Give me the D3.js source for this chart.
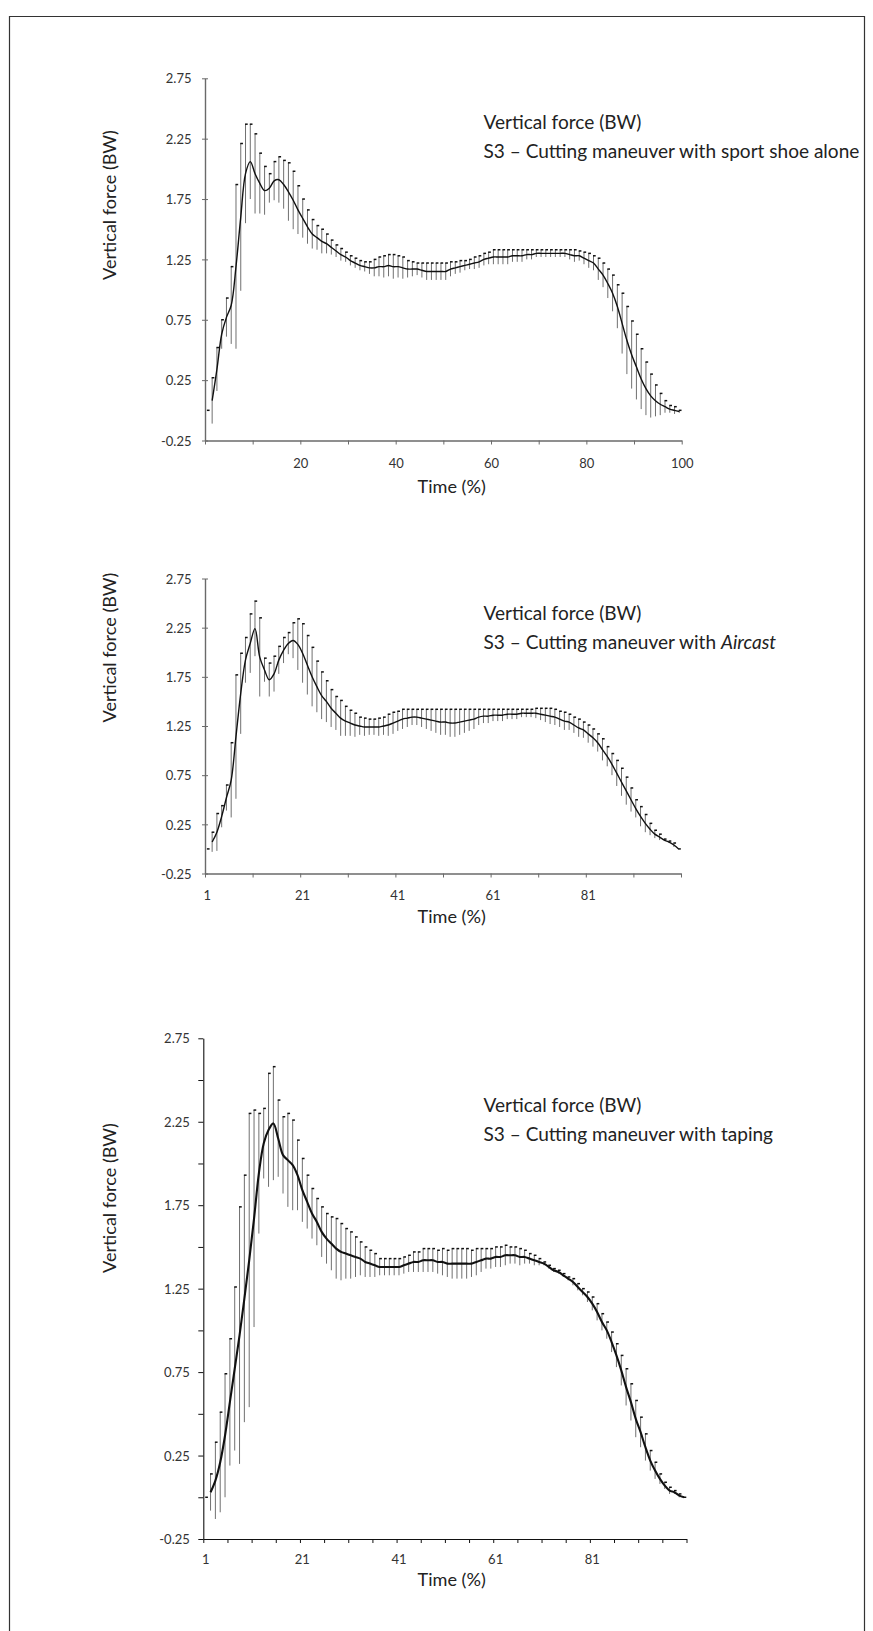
<!DOCTYPE html>
<html><head><meta charset="utf-8">
<script src="https://cdn.jsdelivr.net/npm/d3@7"></script>
<style>
html,body{margin:0;padding:0;background:#fff;}
svg{display:block;}
</style></head>
<body><svg id="c" width="873" height="1631"></svg>
<script>
// ---------------- data ----------------
const categories = d3.range(1, 101); // Time (%) 1..100

const mean1 = [0.00,0.08,0.34,0.63,0.77,0.87,1.19,1.60,1.96,2.06,
 1.96,1.88,1.82,1.84,1.90,1.91,1.87,1.81,1.74,1.66,
 1.59,1.52,1.46,1.43,1.40,1.38,1.35,1.32,1.29,1.27,
 1.24,1.22,1.20,1.19,1.18,1.18,1.19,1.19,1.20,1.19,
 1.19,1.18,1.17,1.17,1.17,1.16,1.15,1.15,1.15,1.15,
 1.15,1.17,1.18,1.19,1.20,1.21,1.22,1.23,1.25,1.26,
 1.27,1.27,1.27,1.27,1.28,1.28,1.28,1.29,1.29,1.30,
 1.30,1.30,1.30,1.30,1.30,1.30,1.29,1.28,1.28,1.26,
 1.24,1.22,1.17,1.12,1.05,0.97,0.86,0.72,0.58,0.46,
 0.36,0.26,0.18,0.12,0.08,0.05,0.03,0.01,0.00,-0.01];
const sd1 = [0.00,0.19,0.18,0.12,0.16,0.32,0.68,0.61,0.41,0.31,
 0.33,0.25,0.20,0.12,0.16,0.19,0.20,0.24,0.24,0.20,
 0.16,0.14,0.12,0.10,0.10,0.08,0.06,0.05,0.05,0.04,
 0.04,0.04,0.04,0.04,0.05,0.07,0.08,0.09,0.09,0.10,
 0.09,0.09,0.07,0.06,0.05,0.06,0.07,0.07,0.07,0.07,
 0.07,0.06,0.05,0.05,0.04,0.04,0.05,0.05,0.05,0.05,
 0.06,0.06,0.06,0.06,0.05,0.05,0.05,0.04,0.04,0.03,
 0.03,0.03,0.03,0.03,0.03,0.03,0.04,0.05,0.04,0.05,
 0.06,0.06,0.09,0.10,0.12,0.15,0.18,0.25,0.28,0.28,
 0.27,0.25,0.22,0.18,0.13,0.09,0.05,0.03,0.03,0.01];

const mean2 = [0.00,0.07,0.17,0.33,0.52,0.70,1.14,1.58,1.92,2.09,
 2.24,1.95,1.82,1.72,1.78,1.92,2.02,2.09,2.12,2.08,
 1.99,1.87,1.75,1.65,1.56,1.50,1.43,1.38,1.33,1.30,
 1.28,1.26,1.25,1.24,1.24,1.24,1.24,1.25,1.26,1.28,
 1.30,1.32,1.33,1.34,1.34,1.33,1.32,1.31,1.30,1.29,
 1.29,1.28,1.28,1.29,1.30,1.31,1.32,1.34,1.35,1.35,
 1.36,1.36,1.36,1.37,1.37,1.37,1.38,1.38,1.38,1.38,
 1.37,1.36,1.35,1.34,1.32,1.30,1.29,1.26,1.23,1.21,
 1.17,1.13,1.08,1.01,0.94,0.86,0.77,0.68,0.59,0.50,
 0.41,0.33,0.26,0.20,0.15,0.12,0.09,0.07,0.04,0.00];
const sd2 = [0.00,0.10,0.19,0.11,0.13,0.38,0.63,0.41,0.23,0.30,
 0.28,0.40,0.12,0.17,0.18,0.14,0.13,0.11,0.18,0.26,
 0.30,0.30,0.30,0.26,0.24,0.21,0.19,0.17,0.18,0.15,
 0.13,0.12,0.09,0.09,0.08,0.08,0.09,0.09,0.11,0.11,
 0.10,0.10,0.09,0.08,0.08,0.09,0.10,0.11,0.12,0.13,
 0.13,0.14,0.14,0.13,0.12,0.11,0.10,0.08,0.07,0.07,
 0.06,0.06,0.06,0.05,0.05,0.05,0.04,0.04,0.04,0.05,
 0.06,0.07,0.08,0.08,0.08,0.09,0.08,0.08,0.09,0.08,
 0.09,0.09,0.09,0.11,0.10,0.11,0.13,0.14,0.14,0.12,
 0.09,0.10,0.09,0.06,0.04,0.03,0.01,0.01,0.02,0.00];

const mean3 = [0.00,0.03,0.10,0.21,0.37,0.57,0.77,0.97,1.19,1.42,
 1.67,1.94,2.12,2.20,2.24,2.15,2.05,2.02,1.99,1.93,
 1.84,1.77,1.70,1.65,1.59,1.55,1.52,1.49,1.47,1.46,
 1.45,1.44,1.43,1.41,1.40,1.39,1.38,1.38,1.38,1.38,
 1.38,1.39,1.40,1.41,1.41,1.42,1.42,1.42,1.41,1.41,
 1.40,1.40,1.40,1.40,1.40,1.40,1.41,1.42,1.43,1.43,
 1.44,1.44,1.45,1.45,1.45,1.44,1.44,1.43,1.42,1.41,
 1.40,1.38,1.36,1.35,1.33,1.31,1.29,1.26,1.23,1.20,
 1.16,1.11,1.05,1.00,0.93,0.85,0.76,0.66,0.57,0.47,
 0.39,0.30,0.22,0.16,0.11,0.07,0.04,0.03,0.01,0.00];
const sd3 = [0.00,0.11,0.23,0.30,0.37,0.38,0.49,0.77,0.74,0.88,
 0.65,0.36,0.21,0.34,0.34,0.23,0.23,0.28,0.27,0.21,
 0.19,0.16,0.15,0.14,0.15,0.15,0.16,0.18,0.17,0.15,
 0.14,0.12,0.10,0.09,0.08,0.07,0.05,0.05,0.05,0.05,
 0.05,0.05,0.05,0.06,0.06,0.07,0.07,0.07,0.07,0.08,
 0.08,0.09,0.09,0.09,0.09,0.08,0.08,0.07,0.06,0.06,
 0.06,0.06,0.06,0.05,0.05,0.05,0.04,0.03,0.03,0.02,
 0.01,0.01,0.01,0.01,0.01,0.01,0.02,0.02,0.02,0.03,
 0.04,0.05,0.05,0.05,0.06,0.07,0.09,0.11,0.11,0.11,
 0.09,0.08,0.06,0.05,0.03,0.02,0.02,0.01,0.01,0.00];

const yTickLabels = [-0.25, 0.25, 0.75, 1.25, 1.75, 2.25, 2.75];
const yTicksFine = [-0.25, 0, 0.25, 0.5, 0.75, 1, 1.25, 1.5, 1.75, 2, 2.25, 2.5, 2.75];
const xTickLabels1 = [20, 40, 60, 80, 100];
const xCatLabels = [1, 21, 41, 61, 81];
const yTitle = "Vertical force (BW)";
const xTitle = "Time (%)";
const noteTitle = "Vertical force (BW)";
const notes = [
  [{t:"S3 – Cutting maneuver with sport shoe alone"}],
  [{t:"S3 – Cutting maneuver with "}, {t:"Aircast", it:true}],
  [{t:"S3 – Cutting maneuver with taping"}]
];

// ---------------- layout ----------------
const panels = [
  {mean: mean1, sd: sd1, note: notes[0], kind: "value", x0: 205, x1: 681.7, yT: 78.3, yB: 440.5,
   axisColor: "#6a6a6a", axisW: 1.4, lineW: 1.4, fineY: false, xStep: 10,
   noteY: 129, yTitleY: 205, xLabY: 463, xTitleY: 487},
  {mean: mean2, sd: sd2, note: notes[1], kind: "cat", x0: 205, x1: 681, yT: 578.5, yB: 873.5,
   axisColor: "#6a6a6a", axisW: 1.4, lineW: 1.4, fineY: false, xStep: 10,
   noteY: 620, yTitleY: 647.5, xLabY: 895, xTitleY: 917},
  {mean: mean3, sd: sd3, note: notes[2], kind: "cat", x0: 203.3, x1: 686.5, yT: 1038.3, yB: 1539,
   axisColor: "#111", axisW: 1.1, lineW: 2.1, fineY: true, xStep: 5,
   noteY: 1112, yTitleY: 1198, xLabY: 1559.5, xTitleY: 1579.5}
];

const FONT = "Lato, 'Open Sans', sans-serif";
const svg = d3.select("#c");

// frame
svg.append("path")
  .attr("d", "M9.5,1631 L9.5,16.5 L864.5,16.5 L864.5,1631")
  .attr("fill", "none").attr("stroke", "#333").attr("stroke-width", 1.2);

// font sizes fitted to the reference text widths
function fitSize(str, target) {
  const probe = svg.append("text").attr("font-family", FONT).attr("font-size", 100).text(str);
  const s = 100 * target / probe.node().getComputedTextLength();
  probe.remove();
  return s;
}
const noteSize = fitSize(notes[0][0].t, 376);
const yTitleSize = fitSize(yTitle, 150);

panels.forEach(p => {
  const g = svg.append("g");
  const band = d3.scaleBand().domain(categories).range([p.x0, p.x1]);
  const cx = d => band(d) + band.bandwidth() / 2;
  const y = d3.scaleLinear().domain([-0.25, 2.75]).range([p.yB, p.yT]);
  const xl = d3.scaleLinear().domain([0, 100]).range([p.x0, p.x1]);

  // ---- y axis
  const yAxis = d3.axisLeft(y)
    .tickValues(p.fineY ? yTicksFine : yTickLabels)
    .tickSize(p.fineY ? 5 : 3).tickSizeOuter(0)
    .tickPadding(p.fineY ? 8.5 : 10.5)
    .tickFormat(d => yTickLabels.some(v => Math.abs(v - d) < 1e-9) ? d.toFixed(2) : "");
  const ya = g.append("g").attr("transform", `translate(${p.x0},0)`).call(yAxis);
  ya.select(".domain").attr("stroke", p.axisColor).attr("stroke-width", p.axisW);
  ya.selectAll(".tick line").attr("stroke", p.axisColor).attr("stroke-width", 1);
  if (!p.fineY) ya.selectAll(".tick line").attr("x1", 3);
  ya.selectAll(".tick text").attr("font-family", FONT).attr("font-size", 13)
    .attr("fill", "#333").attr("dy", "0.36em");

  // ---- x axis ticks
  const xTickAxis = d3.axisBottom(xl)
    .tickValues(d3.range(0, 101, p.xStep))
    .tickSize(4).tickSizeOuter(0)
    .tickFormat(d => (p.kind === "value" && xTickLabels1.includes(d)) ? d : "");
  const xa = g.append("g").attr("transform", `translate(0,${p.yB})`).call(xTickAxis);
  xa.select(".domain").attr("stroke", p.axisColor).attr("stroke-width", p.axisW);
  xa.selectAll(".tick line").attr("stroke", p.axisColor).attr("stroke-width", 1);
  xa.selectAll(".tick text").attr("font-family", FONT).attr("font-size", 13)
    .attr("fill", "#333").attr("y", p.xLabY - p.yB).attr("dy", "0.36em");
  if (p.kind === "cat") {
    const xCat = d3.axisBottom(band).tickValues(xCatLabels).tickSize(0);
    const xc = g.append("g").attr("transform", `translate(0,${p.yB})`).call(xCat);
    xc.select(".domain").remove();
    xc.selectAll(".tick text").attr("font-family", FONT).attr("font-size", 13)
      .attr("fill", "#333").attr("y", p.xLabY - p.yB).attr("dy", "0.36em");
  }

  // ---- error bars
  const pts = categories.map((c, i) => ({c, m: p.mean[i], s: p.sd[i], i}));
  g.append("g").selectAll("line").data(pts).join("line")
    .attr("x1", d => cx(d.c)).attr("x2", d => cx(d.c))
    .attr("y1", d => y(d.m + d.s)).attr("y2", d => y(d.m - d.s))
    .attr("stroke", "#707070").attr("stroke-width", 1);
  g.append("g").selectAll("line").data(pts).join("line")
    .attr("x1", d => cx(d.c) - 0.5).attr("x2", d => cx(d.c) + 2.2)
    .attr("y1", d => y(d.m + d.s)).attr("y2", d => y(d.m + d.s))
    .attr("stroke", "#111").attr("stroke-width", 1.5);

  // ---- mean curve
  const line = d3.line().defined(d => d.i > 0)
    .x(d => cx(d.c)).y(d => y(d.m))
    .curve(d3.curveCatmullRom.alpha(0.5));
  g.append("path").datum(pts).attr("d", line)
    .attr("fill", "none").attr("stroke", "#111").attr("stroke-width", p.lineW)
    .attr("stroke-linejoin", "round");

  // ---- annotation
  const nx = 483.5;
  g.append("text").attr("x", nx).attr("y", p.noteY)
    .attr("font-family", FONT).attr("font-size", noteSize).attr("fill", "#222").text(noteTitle);
  const t2 = g.append("text").attr("x", nx).attr("y", p.noteY + 28.5)
    .attr("font-family", FONT).attr("font-size", noteSize).attr("fill", "#222");
  p.note.forEach(s => {
    const ts = t2.append("tspan").text(s.t);
    if (s.it) ts.attr("font-style", "italic");
  });

  // ---- axis titles
  g.append("text").attr("transform", `translate(109.5,${p.yTitleY}) rotate(-90)`)
    .attr("text-anchor", "middle").attr("dy", "0.35em")
    .attr("font-family", FONT).attr("font-size", yTitleSize).attr("fill", "#222").text(yTitle);
  g.append("text").attr("x", 451.7).attr("y", p.xTitleY)
    .attr("text-anchor", "middle").attr("dy", "0.35em")
    .attr("font-family", FONT).attr("font-size", yTitleSize).attr("fill", "#222").text(xTitle);
});
</script>
</body></html>
